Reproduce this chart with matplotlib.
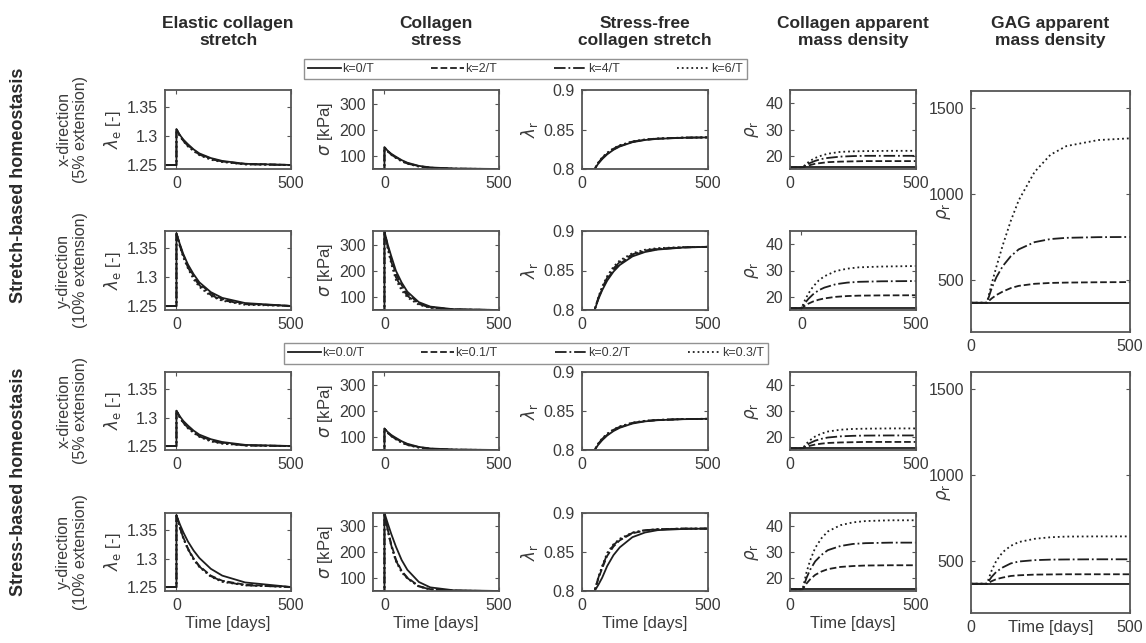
import matplotlib.pyplot as plt

plt.rcParams['font.family'] = ['Liberation Sans', 'DejaVu Sans']
plt.rcParams['mathtext.fontset'] = 'dejavusans'

W, H = 1146, 643

# time grids [days]
t_jump = [-50, 0, 0, 15, 30, 50, 75, 100, 150, 200, 300, 500]
t_rise = [0, 50, 65, 80, 100, 125, 150, 200, 250, 300, 400, 500]
t_rise_early = [-50, 0, 15, 30, 50, 75, 100, 150, 200, 250, 350, 500]

labels_top = ['k=0/T', 'k=2/T', 'k=4/T', 'k=6/T']
labels_bot = ['k=0.0/T', 'k=0.1/T', 'k=0.2/T', 'k=0.3/T']

# elastic collagen stretch (rows: x stretch, y stretch, x stress, y stress)
lam_e_r1 = [[1.25, 1.25, 1.312, 1.302, 1.294, 1.286, 1.277, 1.270, 1.262, 1.257, 1.252, 1.25],
            [1.25, 1.25, 1.312, 1.301, 1.293, 1.284, 1.276, 1.269, 1.261, 1.256, 1.252, 1.25],
            [1.25, 1.25, 1.312, 1.300, 1.292, 1.283, 1.275, 1.268, 1.260, 1.256, 1.251, 1.25],
            [1.25, 1.25, 1.312, 1.300, 1.291, 1.282, 1.274, 1.267, 1.259, 1.255, 1.251, 1.25]]
lam_e_r2 = [[1.25, 1.25, 1.376, 1.357, 1.340, 1.322, 1.305, 1.291, 1.274, 1.264, 1.255, 1.25],
            [1.25, 1.25, 1.376, 1.356, 1.338, 1.320, 1.302, 1.289, 1.272, 1.262, 1.254, 1.25],
            [1.25, 1.25, 1.376, 1.354, 1.336, 1.317, 1.299, 1.286, 1.269, 1.260, 1.253, 1.25],
            [1.25, 1.25, 1.376, 1.353, 1.334, 1.315, 1.296, 1.283, 1.267, 1.259, 1.252, 1.25]]
lam_e_r3 = [[1.25, 1.25, 1.312, 1.302, 1.294, 1.286, 1.277, 1.270, 1.262, 1.257, 1.252, 1.25],
            [1.25, 1.25, 1.312, 1.301, 1.292, 1.283, 1.275, 1.268, 1.260, 1.256, 1.251, 1.25],
            [1.25, 1.25, 1.312, 1.300, 1.291, 1.282, 1.274, 1.267, 1.259, 1.255, 1.251, 1.25],
            [1.25, 1.25, 1.312, 1.299, 1.290, 1.281, 1.273, 1.266, 1.258, 1.254, 1.251, 1.25]]
lam_e_r4 = [[1.25, 1.25, 1.376, 1.360, 1.346, 1.330, 1.314, 1.301, 1.282, 1.270, 1.258, 1.25],
            [1.25, 1.25, 1.376, 1.355, 1.337, 1.318, 1.300, 1.287, 1.270, 1.261, 1.254, 1.25],
            [1.25, 1.25, 1.376, 1.354, 1.336, 1.317, 1.299, 1.286, 1.269, 1.260, 1.253, 1.25],
            [1.25, 1.25, 1.376, 1.353, 1.335, 1.316, 1.298, 1.285, 1.268, 1.259, 1.253, 1.25]]

# collagen stress [kPa]
sig_r1 = [[50, 50, 133, 119, 108, 97, 84, 74, 62, 56, 52, 50],
          [50, 50, 133, 118, 106, 95, 82, 72, 61, 55, 51, 50],
          [50, 50, 133, 117, 105, 93, 80, 71, 60, 55, 51, 50],
          [50, 50, 133, 116, 104, 92, 79, 70, 59, 54, 51, 50]]
sig_r2 = [[50, 50, 350, 298, 255, 200, 155, 120, 80, 63, 53, 50],
          [50, 50, 350, 292, 245, 188, 145, 112, 76, 61, 52, 50],
          [50, 50, 350, 286, 235, 175, 135, 104, 73, 59, 52, 50],
          [50, 50, 350, 280, 225, 165, 125, 98, 70, 58, 52, 50]]
sig_r3 = [[50, 50, 133, 119, 108, 97, 84, 74, 62, 56, 52, 50],
          [50, 50, 133, 117, 105, 94, 81, 72, 61, 55, 51, 50],
          [50, 50, 133, 116, 104, 92, 79, 70, 60, 54, 51, 50],
          [50, 50, 133, 115, 103, 91, 78, 69, 59, 54, 51, 50]]
sig_r4 = [[50, 50, 352, 310, 270, 222, 170, 132, 85, 64, 53, 50],
          [50, 50, 352, 285, 230, 172, 128, 102, 69, 57, 51, 50],
          [50, 50, 352, 282, 226, 168, 125, 100, 68, 56, 51, 50],
          [50, 50, 352, 280, 222, 165, 122, 98, 67, 56, 51, 50]]

# stress-free collagen stretch
lam_r_r1 = [[0.8, 0.8, 0.807, 0.8125, 0.8186, 0.8243, 0.8285, 0.8339, 0.8367, 0.8382, 0.8395, 0.84],
            [0.8, 0.8, 0.8075, 0.8132, 0.8193, 0.825, 0.829, 0.8343, 0.837, 0.8384, 0.8396, 0.84],
            [0.8, 0.8, 0.808, 0.814, 0.82, 0.8257, 0.8296, 0.8347, 0.8372, 0.8385, 0.8397, 0.84],
            [0.8, 0.8, 0.8085, 0.8147, 0.8207, 0.8263, 0.8301, 0.835, 0.8374, 0.8386, 0.8397, 0.84]]
lam_r_r2 = [[0.8, 0.8, 0.8137, 0.825, 0.8372, 0.8486, 0.857, 0.8678, 0.8734, 0.8765, 0.879, 0.88],
            [0.8, 0.8, 0.8147, 0.8265, 0.839, 0.8505, 0.8587, 0.869, 0.8743, 0.877, 0.8792, 0.88],
            [0.8, 0.8, 0.8156, 0.828, 0.841, 0.8527, 0.8608, 0.8705, 0.8753, 0.8776, 0.8794, 0.88],
            [0.8, 0.8, 0.8165, 0.8296, 0.843, 0.8548, 0.8628, 0.872, 0.8763, 0.8783, 0.8796, 0.88]]
lam_r_r3 = [[0.8, 0.8, 0.807, 0.8125, 0.8186, 0.8243, 0.8285, 0.8339, 0.8367, 0.8382, 0.8395, 0.84],
            [0.8, 0.8, 0.8076, 0.8134, 0.8195, 0.8252, 0.8292, 0.8344, 0.837, 0.8384, 0.8396, 0.84],
            [0.8, 0.8, 0.8082, 0.8142, 0.8203, 0.8259, 0.8298, 0.8348, 0.8373, 0.8385, 0.8397, 0.84],
            [0.8, 0.8, 0.8087, 0.8149, 0.821, 0.8265, 0.8303, 0.8351, 0.8375, 0.8386, 0.8397, 0.84]]
lam_r_r4 = [[0.8, 0.8, 0.808, 0.817, 0.832, 0.846, 0.856, 0.869, 0.875, 0.878, 0.8795, 0.88],
            [0.8, 0.8, 0.816, 0.829, 0.845, 0.857, 0.865, 0.874, 0.8775, 0.879, 0.88, 0.88],
            [0.8, 0.8, 0.817, 0.831, 0.847, 0.859, 0.866, 0.8745, 0.878, 0.879, 0.88, 0.88],
            [0.8, 0.8, 0.818, 0.832, 0.849, 0.86, 0.867, 0.875, 0.878, 0.8792, 0.88, 0.88]]

# collagen apparent mass density
rho_c_r1 = [[15.6] * 12,
            [15.6, 15.6, 16.1, 16.5, 17.0, 17.3, 17.6, 17.8, 17.9, 18.0, 18.0, 18.0],
            [15.6, 15.6, 16.6, 17.3, 18.1, 18.8, 19.2, 19.7, 19.9, 20.0, 20.0, 20.0],
            [15.6, 15.6, 17.0, 18.1, 19.2, 20.1, 20.8, 21.5, 21.7, 21.8, 21.9, 21.9]]
rho_c_r2 = [[15.6] * 12,
            [15.6, 15.6, 16.6, 17.4, 18.2, 18.9, 19.4, 20.0, 20.3, 20.45, 20.55, 20.6],
            [15.6, 15.6, 17.6, 19.2, 20.9, 22.5, 23.5, 24.8, 25.4, 25.7, 25.9, 26.0],
            [15.6, 15.6, 18.7, 21.2, 23.8, 26.2, 27.8, 29.8, 30.7, 31.2, 31.5, 31.7]]
rho_c_r3 = [[15.6] * 12,
            [15.6, 15.6, 16.2, 16.65, 17.1, 17.45, 17.7, 17.9, 18.0, 18.1, 18.1, 18.1],
            [15.6, 15.6, 16.8, 17.7, 18.6, 19.3, 19.8, 20.25, 20.45, 20.55, 20.6, 20.6],
            [15.6, 15.6, 17.45, 18.8, 20.2, 21.3, 22.1, 22.8, 23.1, 23.2, 23.3, 23.3]]
rho_c_r4 = [[15.6] * 12,
            [15.6, 15.6, 17.8, 19.5, 21.2, 22.5, 23.4, 24.25, 24.6, 24.8, 24.9, 24.9],
            [15.6, 15.6, 19.9, 23.2, 26.4, 28.9, 30.7, 32.3, 33.1, 33.4, 33.6, 33.6],
            [15.6, 15.6, 22.0, 26.8, 31.6, 35.3, 37.9, 40.3, 41.4, 41.9, 42.2, 42.2]]

# GAG apparent mass density
gag_top = [[370] * 12,
           [370, 370, 395, 415, 435, 455, 468, 480, 485, 487, 489, 490],
           [370, 370, 454, 519, 583, 640, 680, 722, 740, 747, 751, 752],
           [370, 370, 480, 580, 705, 845, 965, 1130, 1230, 1280, 1315, 1325]]
gag_bot = [[370] * 12,
           [370, 370, 385, 397, 406, 415, 419, 423, 424, 425, 425, 425],
           [370, 370, 410, 440, 465, 488, 499, 507, 510, 511, 512, 512],
           [370, 370, 447, 505, 554, 590, 612, 631, 640, 644, 645, 645]]

styles = ['-', '--', '-.', ':']
line_color = '#1e1e1e'
spine_color = '#555555'
text_color = '#3a3a3a'

fig = plt.figure(figsize=(W / 100, H / 100), dpi=100)


def add_ax(x0, y0, x1, y1):
    return fig.add_axes([x0 / W, 1 - y1 / H, (x1 - x0) / W, (y1 - y0) / H])


def style_ax(ax, xlim, ylim, yticks, yticklabels=None):
    ax.set_xlim(xlim)
    ax.set_ylim(ylim)
    ax.set_xticks([0, 500])
    ax.set_yticks(yticks)
    if yticklabels is not None:
        ax.set_yticklabels(yticklabels)
    ax.tick_params(direction='in', top=True, right=True, length=3, width=0.8,
                   color=spine_color, labelcolor=text_color, labelsize=11.5, pad=5)
    for s in ax.spines.values():
        s.set_color(spine_color)
        s.set_linewidth(1.3)


def draw(ax, t, series):
    lines = []
    for vals, ls in zip(series, styles):
        ln, = ax.plot(t, vals, linestyle=ls, color=line_color, lw=1.3)
        lines.append(ln)
    return lines


col_x = [165, 373, 582, 790]
row_y = [(90, 169), (231, 310), (372, 450), (513, 591)]

columns = [
    ([lam_e_r1, lam_e_r2, lam_e_r3, lam_e_r4], [t_jump] * 4, [(-50, 500)] * 4,
     (1.243, 1.38), [1.25, 1.3, 1.35], ['1.25', '1.3', '1.35'], r'$\lambda_{\rm e}$ [-]'),
    ([sig_r1, sig_r2, sig_r3, sig_r4], [t_jump] * 4, [(-50, 500)] * 4,
     (50, 352), [100, 200, 300], None, r'$\sigma$ [kPa]'),
    ([lam_r_r1, lam_r_r2, lam_r_r3, lam_r_r4], [t_rise] * 4, [(0, 500)] * 4,
     (0.8, 0.9), [0.8, 0.85, 0.9], ['0.8', '0.85', '0.9'], r'$\lambda_{\rm r}$'),
    ([rho_c_r1, rho_c_r2, rho_c_r3, rho_c_r4], [t_rise, t_rise_early, t_rise, t_rise],
     [(0, 500), (-50, 500), (0, 500), (0, 500)],
     (15, 45), [20, 30, 40], None, r'$\rho_{\rm r}$'),
]

handles = None
for c, (data, tgrids, xlims, ylim, yticks, yticklabels, ylab) in enumerate(columns):
    for r in range(4):
        y0, y1 = row_y[r]
        ax = add_ax(col_x[c], y0, col_x[c] + 126, y1)
        lines = draw(ax, tgrids[r], data[r])
        if handles is None:
            handles = lines
        style_ax(ax, xlims[r], ylim, yticks, yticklabels)
        ax.set_ylabel(ylab, fontsize=12, color=text_color, labelpad=3)
        if r == 3:
            ax.set_xlabel('Time [days]', fontsize=12, color=text_color, labelpad=2)

for (y0, y1), data in [((91, 332), gag_top), ((372, 613), gag_bot)]:
    ax = add_ax(971, y0, 1130, y1)
    draw(ax, t_rise, data)
    style_ax(ax, (0, 500), (200, 1600), [500, 1000, 1500])
    ax.set_ylabel(r'$\rho_{\rm r}$', fontsize=12, color=text_color)
    ax.yaxis.set_label_coords(-0.115, 0.5)
    if y0 > 300:
        ax.set_xlabel('Time [days]', fontsize=12, color=text_color)
        ax.xaxis.set_label_coords(0.5, -0.03)

# legends
for labels, (x0, y0, x1, y1) in [(labels_top, (296, 57, 755, 81)), (labels_bot, (290, 341, 762, 366))]:
    leg = fig.legend(handles, labels, loc='center', ncol=4,
                     bbox_to_anchor=((x0 + x1) / 2 / W, 1 - (y0 + y1) / 2 / H),
                     fontsize=9, frameon=True, fancybox=False, handlelength=2.6,
                     borderpad=0.35, handletextpad=0.1, columnspacing=4.6,
                     borderaxespad=0)
    leg.get_frame().set_edgecolor('#777777')
    leg.get_frame().set_linewidth(1.0)
    for txt in leg.get_texts():
        txt.set_color(text_color)

# column titles
titles = ['Elastic collagen\nstretch', 'Collagen\nstress', 'Stress-free\ncollagen stretch',
          'Collagen apparent\nmass density', 'GAG apparent\nmass density']
title_x = [228, 436, 645, 853, 1050]
for tx, tt in zip(title_x, titles):
    fig.text(tx / W, 1 - 32 / H, tt, ha='center', va='center', fontsize=12.5,
             fontweight='bold', color='#2a2a2a', linespacing=1.2)

# row labels
row_labels = ['x-direction\n(5% extension)', 'y-direction\n(10% extension)',
              'x-direction\n(5% extension)', 'y-direction\n(10% extension)']
for (y0, y1), lab in zip(row_y, row_labels):
    fig.text(72 / W, 1 - (y0 + y1) / 2 / H, lab, rotation=90, ha='center', va='center',
             fontsize=11.5, color=text_color, linespacing=1.1)

fig.text(19 / W, 1 - 185 / H, 'Stretch-based homeostasis', rotation=90, ha='center',
         va='center', fontsize=13, fontweight='bold', color='#2a2a2a')
fig.text(19 / W, 1 - 482 / H, 'Stress-based homeostasis', rotation=90, ha='center',
         va='center', fontsize=13, fontweight='bold', color='#2a2a2a')

fig.savefig('out.png', dpi=100)
